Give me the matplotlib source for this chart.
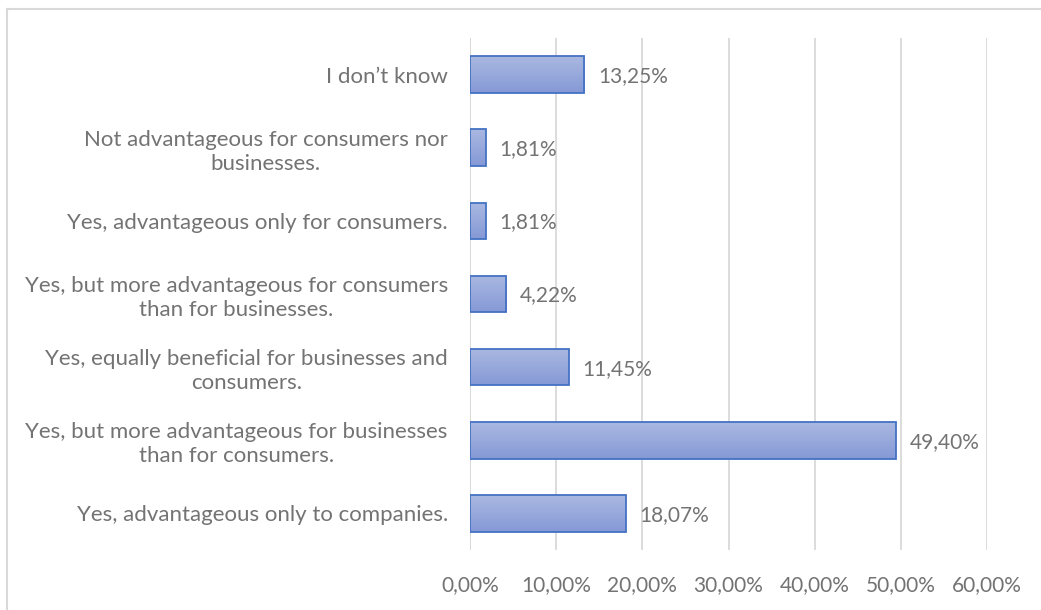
import numpy as np
import matplotlib.pyplot as plt
from matplotlib.lines import Line2D
from matplotlib.colors import LinearSegmentedColormap

categories = [
    "Yes, advantageous only to companies.",
    "Yes, but more advantageous for businesses\nthan for consumers.",
    "Yes, equally beneficial for businesses and\nconsumers.",
    "Yes, but more advantageous for consumers\nthan for businesses.",
    "Yes, advantageous only for consumers.",
    "Not advantageous for consumers nor\nbusinesses.",
    "I don\u2019t know",
]
values = [18.07, 49.40, 11.45, 4.22, 1.81, 1.81, 13.25]
ticks = [0, 10, 20, 30, 40, 50, 60]

plt.rcParams['font.family'] = ['Lato', 'DejaVu Sans']
txt = '#737373'
fs = 15

fig = plt.figure(figsize=(10.41, 6.10), dpi=100)
ax = fig.add_axes([470 / 1041, 1 - 550 / 610, (987 - 470) / 1041, (550 - 38) / 610])

y = np.arange(len(categories))
bars = ax.barh(y, values, height=0.5, color='none', edgecolor='#4472C4', linewidth=1.3, zorder=3)

# vertical gradient inside each bar
grad = np.linspace(0, 1, 64).reshape(-1, 1)
cmap = LinearSegmentedColormap.from_list('bar', ['#AAB8E1', '#8599D6'])
for b in bars:
    x0, y0 = b.get_x(), b.get_y()
    w, h = b.get_width(), b.get_height()
    im = ax.imshow(grad, cmap=cmap, aspect='auto', extent=[x0, x0 + w, y0, y0 + h],
                   origin='upper', zorder=2)
    im.set_clip_path(b)

for yi, v in zip(y, values):
    ax.text(v + 1.6, yi - 0.02, f"{v:.2f}%".replace('.', ','), va='center', ha='left',
            fontsize=fs, color=txt, zorder=4)

ax.set_xlim(0, 60)
ax.set_ylim(-0.5, len(categories) - 0.5)
ax.set_xticks(ticks)
ax.set_xticklabels([f"{t:.2f}%".replace('.', ',') for t in ticks], fontsize=fs, color=txt)
ax.set_yticks(y)
ax.set_yticklabels(categories, fontsize=16, color=txt, multialignment='center',
                   linespacing=1.25)
ax.tick_params(axis='both', length=0)
ax.tick_params(axis='x', pad=18)
ax.tick_params(axis='y', pad=16)
ax.grid(axis='x', color='#D9D9D9', linewidth=1.3, zorder=0)
ax.set_axisbelow(True)
for s in ax.spines.values():
    s.set_visible(False)
ax.axvline(0, color='#D9D9D9', linewidth=1.3, zorder=1)

# chart area border (top and left edges)
fig.add_artist(Line2D([7 / 1041, 7 / 1041], [0, 1 - 9 / 610], color='#D9D9D9', linewidth=1.5))
fig.add_artist(Line2D([7 / 1041, 1], [1 - 9 / 610, 1 - 9 / 610], color='#D9D9D9', linewidth=1.5))

fig.savefig('out.png', dpi=100)
